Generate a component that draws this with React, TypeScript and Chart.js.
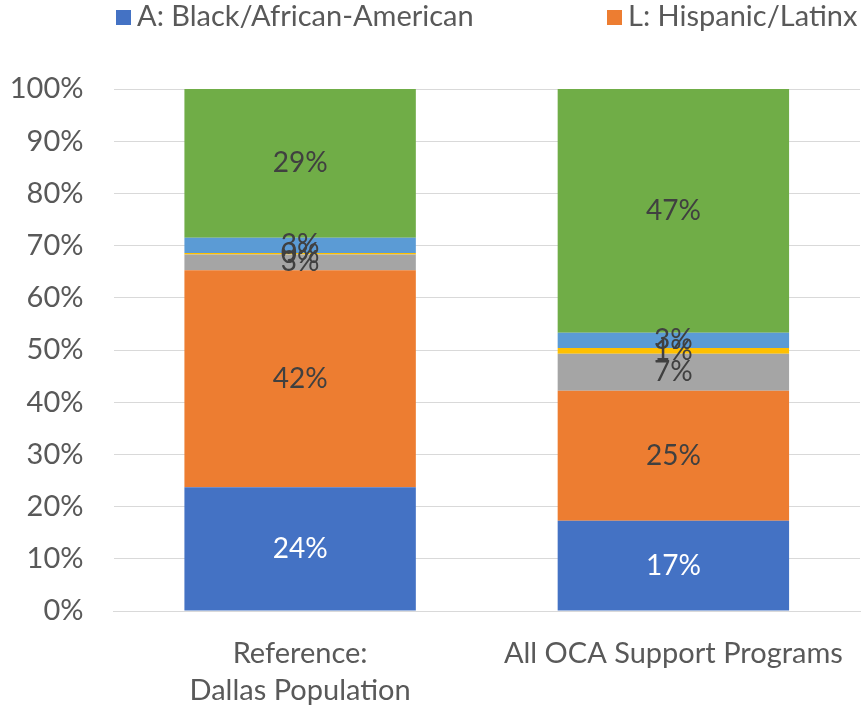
import React, { useEffect, useRef } from "react";
import { Chart, registerables } from "chart.js";

Chart.register(...registerables);

const categories: string[][] = [["Reference:", "Dallas Population"], ["All OCA Support Programs"]];
const seriesNames = [
  "A: Black/African-American",
  "L: Hispanic/Latinx",
  "M: Multiracial/Other",
  "N: Native American",
  "P: Asian/Pacific Islander",
  "W: White",
];
const seriesColors = ["#4472C4", "#ED7D31", "#A5A5A5", "#FFC000", "#5B9BD5", "#70AD47"];
const blackValues = [23.7, 17.3];
const hispanicValues = [41.6, 24.9];
const multiValues = [3.0, 7.1];
const nativeValues = [0.3, 1.1];
const asianValues = [2.9, 2.9];
const whiteValues = [28.5, 46.7];
const yTicks = [0, 10, 20, 30, 40, 50, 60, 70, 80, 90, 100];
const legendShown = 2;

const FONT = "Lato, 'Open Sans', sans-serif";
const TEXT = "#595959";

const dataLabelPlugin = {
  id: "dataLabels",
  afterDatasetsDraw(chart: any) {
    const ctx = chart.ctx;
    ctx.save();
    ctx.font = `28px ${FONT}`;
    ctx.textAlign = "center";
    ctx.textBaseline = "middle";
    chart.data.datasets.forEach((ds: any, di: number) => {
      const meta = chart.getDatasetMeta(di);
      meta.data.forEach((bar: any, i: number) => {
        const v = ds.data[i];
        ctx.fillStyle = di === 0 ? "#FFFFFF" : "#404040";
        ctx.fillText(`${Math.round(v)}%`, bar.x, (bar.y + bar.base) / 2);
      });
    });
    ctx.restore();
  },
};

const legendPlugin = {
  id: "topLegend",
  afterDraw(chart: any) {
    const ctx = chart.ctx;
    ctx.save();
    ctx.font = `29px ${FONT}`;
    ctx.textBaseline = "middle";
    ctx.textAlign = "left";
    const starts = [116, 607];
    const y = 17;
    for (let i = 0; i < legendShown; i++) {
      const ds = chart.data.datasets[i];
      ctx.fillStyle = ds.backgroundColor;
      ctx.fillRect(starts[i], y - 7, 15, 15);
      ctx.fillStyle = TEXT;
      ctx.fillText(ds.label, starts[i] + 21, y);
    }
    ctx.restore();
  },
};

export default function App() {
  const ref = useRef<HTMLCanvasElement>(null);
  useEffect(() => {
    if (!ref.current) return;
    const values = [blackValues, hispanicValues, multiValues, nativeValues, asianValues, whiteValues];
    const chart = new Chart(ref.current, {
      type: "bar",
      data: {
        labels: categories,
        datasets: values.map((d, i) => ({
          label: seriesNames[i],
          data: d,
          backgroundColor: seriesColors[i],
          borderWidth: 0,
          categoryPercentage: 0.62,
          barPercentage: 1,
        })),
      },
      options: {
        animation: false,
        responsive: false,
        maintainAspectRatio: false,
        layout: { padding: { top: 89, right: 3, left: 0, bottom: 0 } },
        plugins: { legend: { display: false }, tooltip: { enabled: false } },
        scales: {
          x: {
            stacked: true,
            grid: { display: false },
            border: { color: "#D9D9D9", width: 1 },
            ticks: {
              color: TEXT,
              font: { family: FONT, size: 29, lineHeight: 1.28 },
              padding: 16,
              maxRotation: 0,
              autoSkip: false,
            },
            afterFit: (s: any) => {
              s.height = 97;
            },
          },
          y: {
            stacked: true,
            min: 0,
            max: 100,
            afterBuildTicks: (s: any) => {
              s.ticks = yTicks.map((v) => ({ value: v }));
            },
            grid: { color: "#D9D9D9", drawTicks: false, lineWidth: 1 },
            border: { display: false },
            ticks: {
              color: TEXT,
              font: { family: FONT, size: 29 },
              padding: 30,
              callback: (v: any) => `${v}%`,
            },
            afterFit: (s: any) => {
              s.width = 113.5;
            },
          },
        },
      },
      plugins: [dataLabelPlugin, legendPlugin],
    });
    return () => chart.destroy();
  }, []);
  return (
    <div style={{ position: "fixed", left: 0, top: 0, width: 863, height: 708, background: "#fff" }}>
      <canvas ref={ref} width={863} height={708} />
    </div>
  );
}
